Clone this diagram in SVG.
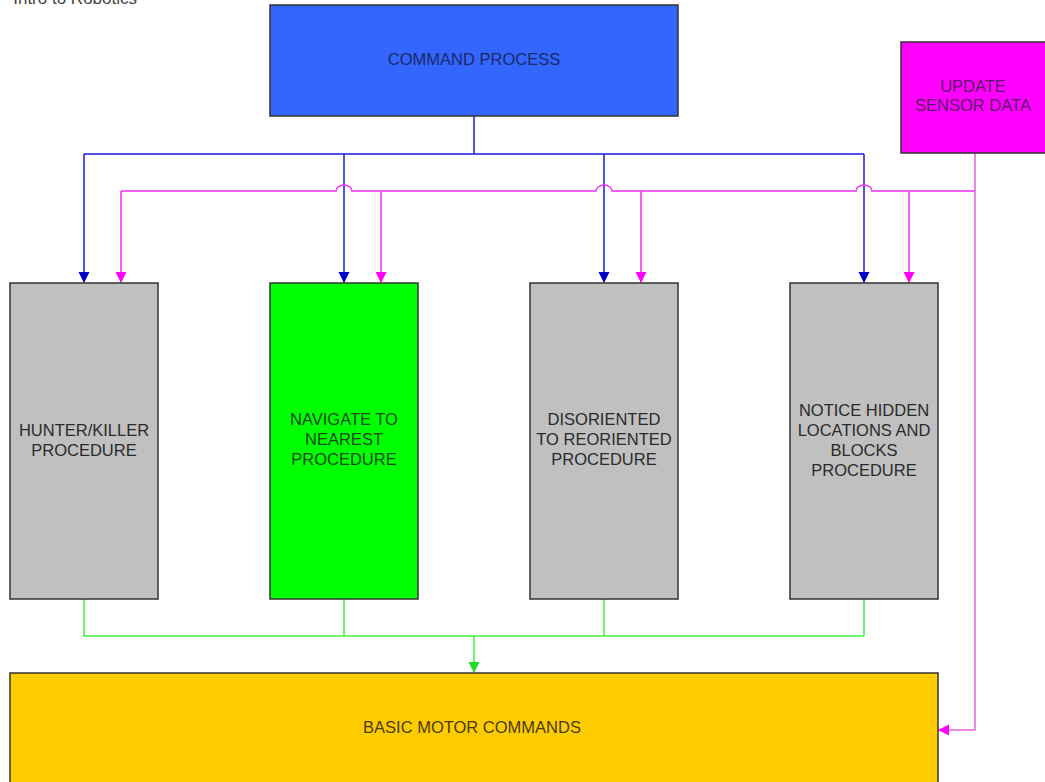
<svg xmlns="http://www.w3.org/2000/svg" width="1045" height="782" viewBox="0 0 1045 782">
<style>
text{font-family:"Liberation Sans",Arial,sans-serif;font-size:16.5px;fill:#2a2a2a;text-anchor:middle}
.box{stroke:#333;stroke-width:1.5}
.gray{fill:#C0C0C0}
.ln{fill:none;stroke-width:1.5}
.b{stroke:#1a1adc}
.m{stroke:#f030f0}
.g{stroke:#44ee44}
</style>
<defs>
<marker id="ab" markerUnits="userSpaceOnUse" markerWidth="12" markerHeight="12" refX="10" refY="5.5" orient="auto"><path d="M0,0 L11,5.5 L0,11 Z" fill="#0000cc"/></marker>
<marker id="am" markerUnits="userSpaceOnUse" markerWidth="12" markerHeight="12" refX="10" refY="5.5" orient="auto"><path d="M0,0 L11,5.5 L0,11 Z" fill="#ff00ff"/></marker>
<marker id="ag" markerUnits="userSpaceOnUse" markerWidth="12" markerHeight="12" refX="10" refY="5.5" orient="auto"><path d="M0,0 L11,5.5 L0,11 Z" fill="#22dd22"/></marker>
</defs>
<rect width="1045" height="782" fill="#fff"/>
<text x="137" y="4" style="font-size:17px;text-anchor:end;fill:#444">Intro to Robotics</text>
<g id="connectors">
<path class="ln b" d="M474,116 V154 M84,154 H864"/>
<path class="ln b" d="M84,154 V282" marker-end="url(#ab)"/>
<path class="ln b" d="M344,154 V282" marker-end="url(#ab)"/>
<path class="ln b" d="M604,154 V282" marker-end="url(#ab)"/>
<path class="ln b" d="M864,154 V282" marker-end="url(#ab)"/>
<path class="ln m" d="M975,191 H872 A8,6 0 0 0 856,191 H612 A8,6 0 0 0 596,191 H352 A8,6 0 0 0 336,191 H121"/>
<path class="ln m" d="M121,191 V282" marker-end="url(#am)"/>
<path class="ln m" d="M381,191 V282" marker-end="url(#am)"/>
<path class="ln m" d="M641,191 V282" marker-end="url(#am)"/>
<path class="ln m" d="M909,191 V282" marker-end="url(#am)"/>
<path class="ln" style="stroke:#dd66dd" d="M975,153 V730 H939" marker-end="url(#am)"/>
<path class="ln g" d="M84,599 V636 H864 M344,599 V636 M604,599 V636 M864,599 V636"/>
<path class="ln g" d="M474,636 V672" marker-end="url(#ag)"/>
</g>
<g id="command">
<rect class="box" x="270" y="5" width="408" height="111" fill="#3366FF"/>
<text x="474" y="65" style="fill:#1a2a66">COMMAND PROCESS</text>
</g>
<g id="sensor">
<rect class="box" x="901" y="42" width="146" height="111" fill="#FF00FF"/>
<text x="973" y="92" style="fill:#5a1a6a">UPDATE</text>
<text x="973" y="111" style="fill:#5a1a6a">SENSOR DATA</text>
</g>
<g id="hunter">
<rect class="box gray" x="10" y="283" width="148" height="316"/>
<text x="84" y="436">HUNTER/KILLER</text>
<text x="84" y="456">PROCEDURE</text>
</g>
<g id="navigate">
<rect class="box" x="270" y="283" width="148" height="316" fill="#00FF00"/>
<text x="344" y="425" style="fill:#1a4a1a">NAVIGATE TO</text>
<text x="344" y="445" style="fill:#1a4a1a">NEAREST</text>
<text x="344" y="465" style="fill:#1a4a1a">PROCEDURE</text>
</g>
<g id="disoriented">
<rect class="box gray" x="530" y="283" width="148" height="316"/>
<text x="604" y="425">DISORIENTED</text>
<text x="604" y="445">TO REORIENTED</text>
<text x="604" y="465">PROCEDURE</text>
</g>
<g id="notice">
<rect class="box gray" x="790" y="283" width="148" height="316"/>
<text x="864" y="416">NOTICE HIDDEN</text>
<text x="864" y="436">LOCATIONS AND</text>
<text x="864" y="456">BLOCKS</text>
<text x="864" y="476">PROCEDURE</text>
</g>
<g id="motor">
<rect class="box" x="10" y="673" width="928" height="115" fill="#FFCC00"/>
<text x="472" y="733" style="fill:#4a3a10">BASIC MOTOR COMMANDS</text>
</g>
</svg>
